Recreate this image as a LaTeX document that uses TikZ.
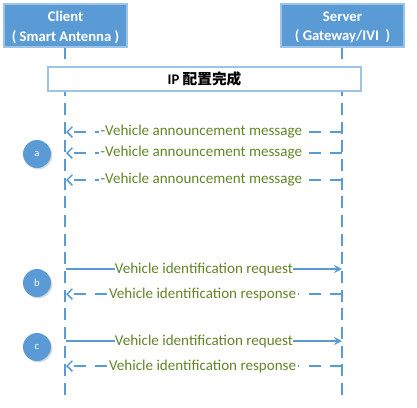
\documentclass[tikz,border=0pt]{standalone}
\usepackage{fontspec}
\setmainfont{Carlito}
\newfontfamily\cjk{Noto Sans CJK SC}
\usetikzlibrary{arrows.meta,shadows}
\definecolor{lblue}{HTML}{5B9BD5}
\definecolor{lgreen}{HTML}{638528}
\begin{document}
\begin{tikzpicture}[x=0.75pt,y=-0.75pt,
  hdr/.style={draw=lblue!60!white,line width=1pt,fill=lblue,minimum width=123*0.75pt,minimum height=43*0.75pt,inner sep=0pt,drop shadow={shadow xshift=1pt,shadow yshift=-1pt,opacity=0.3}},
  hdrtext/.style={text=white,font=\bfseries\fontsize{11}{14.5}\selectfont,align=center,inner sep=0pt,yshift=-1.5pt},
  life/.style={draw=lblue,line width=1.1pt,dash pattern=on 9pt off 5pt},
  msg/.style={text=lgreen,font=\fontsize{11.3}{13}\selectfont,fill=white,inner sep=1pt},
  sol/.style={draw=lblue,line width=1.1pt,-{Stealth[length=6pt,width=6pt]}},
  dsh/.style={draw=lblue,line width=1.1pt,dash pattern=on 9pt off 7pt,-{Straight Barb[length=4pt,width=8pt]}},
  circ/.style={circle,fill=lblue,text=white,minimum size=28*0.75pt,inner sep=0pt,font=\fontsize{8}{10}\selectfont,drop shadow={shadow xshift=1pt,shadow yshift=-1pt,opacity=0.3}}]
\useasboundingbox (0,0) rectangle (417,407);
% lifelines
\coordinate (ct) at (65,47); \coordinate (cb) at (65,400);
\coordinate (st) at (342,47); \coordinate (sb) at (342,400);
\draw[life] (ct) -- (cb);
\draw[life] (st) -- (sb);
\node[hdr,label={[hdrtext]center:{Client\\( Smart Antenna )}}] (client) at (65.5,25.5) {};
\node[hdr,label={[hdrtext]center:{Server\\( Gateway/IVI\ \ )}}] (server) at (342.5,25.5) {};
\node[draw=lblue!60!white,fill=white,line width=0.8pt,minimum width=313*0.75pt,minimum height=24*0.75pt,font=\bfseries\fontsize{11}{13}\selectfont] (ip) at (204.5,79) {IP {\cjk\bfseries 配置完成}};
% announcements
\foreach \y/\n in {132/a1,153/a2,180/a3}{
  \coordinate (s\n) at (342,\y); \coordinate (c\n) at (66,\y);
  \draw[dsh] (s\n) -- (c\n) node[msg,pos=0.5,xshift=-2pt] {-Vehicle announcement message};
}
\node[circ] (a) at (37,154) {a};
\node[circ] (b) at (37,283) {b};
\node[circ] (c) at (37,347) {c};
\foreach \y/\n in {269/r1,341/r2}{
  \coordinate (c\n) at (66,\y); \coordinate (s\n) at (342,\y);
  \draw[sol] (c\n) -- (s\n) node[msg,pos=0.5,inner xsep=0pt] {Vehicle identification request};
}
\foreach \y/\n in {294/p1,366/p2}{
  \coordinate (s\n) at (342,\y); \coordinate (c\n) at (66,\y);
  \draw[dsh] (s\n) -- (c\n) node[msg,pos=0.5,xshift=-1pt] {Vehicle identification response};
}
\end{tikzpicture}
\end{document}
